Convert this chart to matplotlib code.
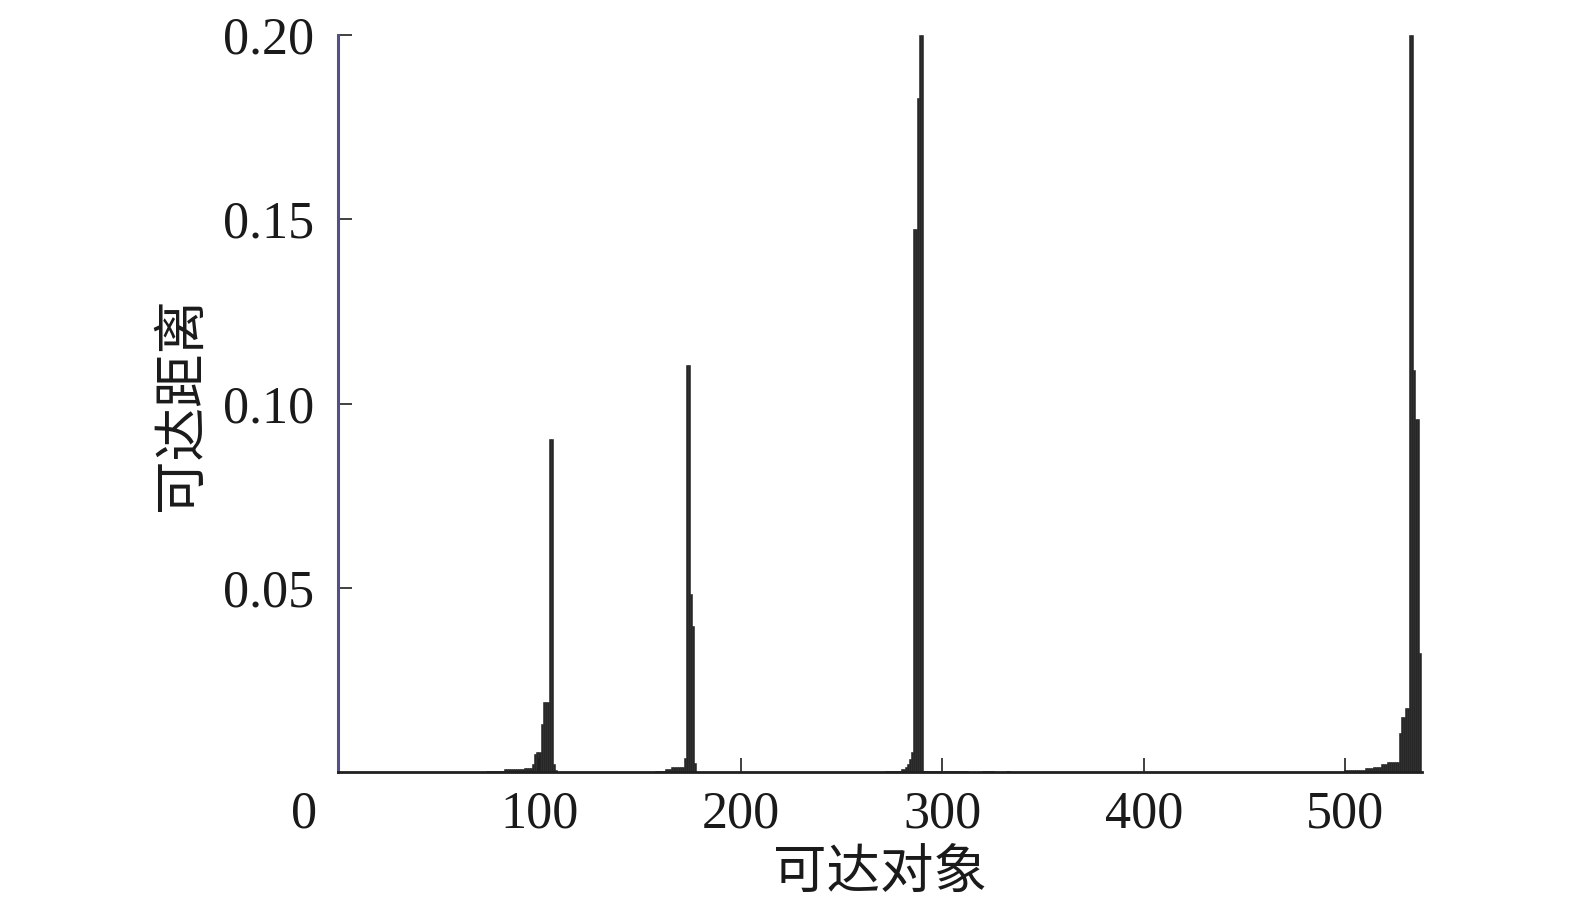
import numpy as np
import matplotlib
matplotlib.use("Agg")
import matplotlib.pyplot as plt

# reachability plot (OPTICS), values read off the figure as runs of equal height
# run heights and run lengths, objects numbered from 1
run_height = [
    0.0001, 0.0003, 0.0007, 0.0011, 0.0022, 0.0050, 0.0054, 0.0130, 0.0190,
    0.0905, 0.0022, 0.0005,
    0.0001, 0.0004, 0.0008, 0.0014, 0.0038, 0.1104, 0.0482, 0.0396, 0.0024,
    0.0001, 0.0004, 0.0007, 0.0013, 0.0022, 0.0035, 0.0055, 0.1474, 0.1828,
    0.2000,
    0.0002, 0.0001, 0.0002, 0.0001, 0.0002, 0.0001, 0.0002, 0.0001,
    0.0005, 0.0012, 0.0015, 0.0022, 0.0028, 0.0105, 0.0150, 0.0175, 0.2000,
    0.1092, 0.0958, 0.0323,
]
run_length = [
    73, 9, 10, 4, 1, 1, 2, 1, 3,
    2, 1, 1,
    49, 5, 3, 6, 1, 2, 1, 1, 1,
    94, 8, 2, 1, 1, 1, 1, 2, 1,
    2,
    9, 1, 12, 7, 6, 6, 2, 166,
    10, 4, 4, 3, 6, 1, 2, 2, 2,
    1, 2, 1,
]
x_ticks = [0, 100, 200, 300, 400, 500]
x_tick_labels = ["", "100", "200", "300", "400", "500"]
y_ticks = [0.05, 0.10, 0.15, 0.20]
y_tick_labels = ["0.05", "0.10", "0.15", "0.20"]
x_label = "可达对象"
y_label = "可达距离"

reach = np.repeat(run_height, run_length)
order = np.arange(1, reach.size + 1)

num_font = "Liberation Serif"
cjk_font = ["Noto Sans CJK SC", "DejaVu Sans"]
bar_color = "#262626"
text_color = "#1a1a1a"

fig = plt.figure(figsize=(15.75, 9.13), dpi=100)
ax = fig.add_axes([0.2146, 0.1544, 0.6883, 0.8073])

ax.bar(order, reach, width=1.0, color=bar_color, edgecolor=bar_color,
       linewidth=0.4, align="center")

ax.set_xlim(0, 538)
ax.set_ylim(0, 0.2)

for side in ("top", "right"):
    ax.spines[side].set_visible(False)
ax.spines["bottom"].set_linewidth(2.0)
ax.spines["bottom"].set_color("#202020")
ax.spines["left"].set_linewidth(2.2)
ax.spines["left"].set_color("#50508a")

x_pad = 13.5
ax.set_xticks(x_ticks)
ax.set_xticklabels(x_tick_labels, fontfamily=num_font, fontsize=37.5,
                   color=text_color)
ax.set_yticks(y_ticks)
ax.set_yticklabels(y_tick_labels, fontfamily=num_font, fontsize=37.5,
                   color=text_color)
ax.tick_params(axis="x", direction="in", length=10, width=1.2, pad=x_pad,
               color="#202020")
ax.tick_params(axis="y", direction="in", length=10, width=1.2, pad=17,
               color="#202020")

# the "0" sits well left of its tick in the original
ax.annotate("0", xy=(0, 0), xycoords=("data", "axes fraction"),
            xytext=(-24.5, -x_pad), textcoords="offset points",
            ha="center", va="top", fontfamily=num_font, fontsize=37.5,
            color=text_color, annotation_clip=False)

ax.set_xlabel(x_label, fontfamily=cjk_font, fontsize=38.5, color=text_color,
              va="center")
ax.xaxis.set_label_coords(0.5, -0.136)
ax.set_ylabel(y_label, fontfamily=cjk_font, fontsize=38.5, color=text_color,
              va="center", ha="center")
ax.yaxis.set_label_coords(-0.1448, 0.5)

fig.savefig("out.png", dpi=100)
